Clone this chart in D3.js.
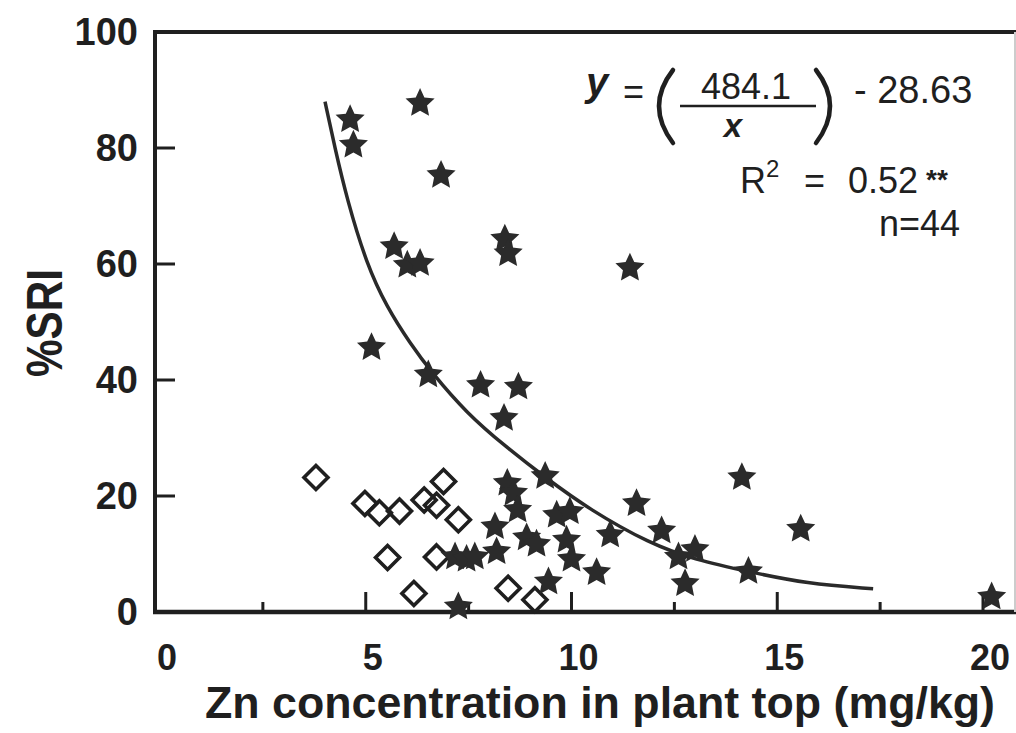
<!DOCTYPE html>
<html>
<head>
<meta charset="utf-8">
<script src="https://cdn.jsdelivr.net/npm/d3@7"></script>
<style>
  body { margin: 0; background: #fff; }
  svg { display: block; }
</style>
</head>
<body>
<svg id="chart" width="1016" height="733"></svg>
<script>
// Zn concentration in plant top (mg/kg) against %SRI

// Filled stars
const starZn  = [6.32, 4.62, 4.70, 6.83, 5.69, 6.01, 6.32, 8.38, 8.46, 11.42,
                 5.14, 6.52, 7.79, 8.71, 8.36, 9.36, 8.44, 8.59, 8.69, 8.14,
                 8.18, 7.17, 7.45, 7.65, 8.91, 9.15, 9.64, 9.96, 9.88, 10.00,
                 9.44, 10.61, 7.25, 11.58, 10.94, 12.19, 12.60, 13.00, 12.76, 14.14,
                 14.30, 15.57, 20.21];
const starSRI = [87.7, 84.9, 80.5, 75.3, 63.0, 59.8, 60.1, 64.3, 61.8, 59.3,
                 45.6, 40.9, 39.1, 38.8, 33.4, 23.4, 22.2, 20.5, 17.6, 14.7,
                 10.4, 9.5, 9.1, 9.5, 12.8, 11.7, 16.7, 17.3, 12.4, 9.1,
                 5.2, 6.8, 0.9, 18.7, 13.3, 14.0, 9.5, 10.8, 4.9, 23.2,
                 7.0, 14.3, 2.6];

// Open diamonds
const diamondZn  = [3.79, 4.98, 5.33, 5.82, 6.42, 6.89, 6.72, 7.25, 5.53, 6.72, 6.17, 8.46, 9.11];
const diamondSRI = [23.2, 18.7, 17.1, 17.4, 19.3, 22.5, 18.4, 15.9, 9.4, 9.5, 3.2, 4.1, 2.1];

// Fitted curve as drawn
const fitZn  = [4.01, 4.25, 4.55, 5.02, 5.51, 6.08, 6.60, 7.45, 8.40, 9.36, 10.45, 11.90, 13.00, 14.34, 15.70, 17.33];
const fitSRI = [88.0, 80.0, 71.0, 60.0, 52.6, 46.3, 41.3, 34.3, 28.5, 23.2, 17.6, 11.8, 9.0, 6.9, 4.9, 4.0];

// Fit statistics
const fitA = 484.1, fitB = 28.63, rSquared = 0.52, nObs = 44;

// Axis ticks
const xTickLabels = [0, 5, 10, 15, 20];
const xMajorTicks = [5, 10, 15, 20];
const xMinorTicks = [2.5, 7.5, 12.5, 17.5];
const yTickLabels = [0, 20, 40, 60, 80, 100];
const yInnerTicks = [20, 40, 60, 80];

const ink = "#1f1f1f";
const font = "'Liberation Sans', Arial, Helvetica, sans-serif";

const svg = d3.select("#chart");
svg.append("rect").attr("width", 1016).attr("height", 733).attr("fill", "#fff");

const x = d3.scaleLinear().domain([0, 20]).range([160, 983]);
const y = d3.scaleLinear().domain([0, 100]).range([612, 32]);

const plotLeft = 155, plotRight = 1015;

// frame
const frame = svg.append("g").attr("stroke", ink).attr("fill", "none");
frame.append("line").attr("x1", plotLeft).attr("x2", plotRight + 2)
  .attr("y1", y(100)).attr("y2", y(100)).attr("stroke-width", 4);
frame.append("line").attr("x1", plotLeft).attr("x2", plotLeft)
  .attr("y1", y(100) - 2).attr("y2", y(0) + 2).attr("stroke-width", 4);
frame.append("line").attr("x1", plotLeft - 2).attr("x2", plotRight + 2)
  .attr("y1", y(0)).attr("y2", y(0)).attr("stroke-width", 4.5);
frame.append("line").attr("x1", plotRight).attr("x2", plotRight)
  .attr("y1", y(100)).attr("y2", y(0)).attr("stroke-width", 2).attr("stroke", "#ccc");

// y ticks pointing inward
frame.selectAll(".ytick").data(yInnerTicks).join("line")
  .attr("x1", plotLeft).attr("x2", plotLeft + 20)
  .attr("y1", d => y(d)).attr("y2", d => y(d)).attr("stroke-width", 3);

// x ticks pointing inward
frame.selectAll(".xmaj").data(xMajorTicks).join("line")
  .attr("x1", d => x(d)).attr("x2", d => x(d))
  .attr("y1", y(0)).attr("y2", y(0) - 20).attr("stroke-width", 3);
frame.selectAll(".xmin").data(xMinorTicks).join("line")
  .attr("x1", d => x(d)).attr("x2", d => x(d))
  .attr("y1", y(0)).attr("y2", y(0) - 10).attr("stroke-width", 3);

// tick labels
svg.append("g").selectAll("text").data(yTickLabels).join("text")
  .attr("x", 138).attr("y", d => y(d) + 13)
  .attr("text-anchor", "end").attr("font-family", font)
  .attr("font-weight", "bold").attr("font-size", 38).attr("fill", ink)
  .text(d => d);

svg.append("g").selectAll("text").data(xTickLabels).join("text")
  .attr("x", d => x(d) + 7).attr("y", 670)
  .attr("text-anchor", "middle").attr("font-family", font)
  .attr("font-weight", "bold").attr("font-size", 36).attr("fill", ink)
  .text(d => d);

// axis titles
svg.append("text")
  .attr("x", 600).attr("y", 718)
  .attr("text-anchor", "middle").attr("font-family", font)
  .attr("font-weight", "bold").attr("font-size", 45).attr("fill", ink)
  .attr("textLength", 790).attr("lengthAdjust", "spacingAndGlyphs")
  .text("Zn concentration in plant top (mg/kg)");

svg.append("text")
  .attr("transform", "translate(62,323) rotate(-90)")
  .attr("text-anchor", "middle").attr("font-family", font)
  .attr("font-weight", "bold").attr("font-size", 50).attr("fill", ink)
  .attr("textLength", 108).attr("lengthAdjust", "spacingAndGlyphs")
  .text("%SRI");

// fitted curve
const line = d3.line().x(d => x(d[0])).y(d => y(d[1])).curve(d3.curveBasis);
svg.append("path")
  .datum(d3.zip(fitZn, fitSRI))
  .attr("d", line)
  .attr("fill", "none").attr("stroke", "#2a2a2a").attr("stroke-width", 3.5);

// symbol shapes
const fatStar = {
  draw(ctx, size) {
    const R = Math.sqrt(size), r = R * 0.48;
    for (let i = 0; i < 10; i++) {
      const a = -Math.PI / 2 + i * Math.PI / 5;
      const rad = i % 2 ? r : R;
      const px = rad * Math.cos(a), py = rad * Math.sin(a);
      if (i) ctx.lineTo(px, py); else ctx.moveTo(px, py);
    }
    ctx.closePath();
  }
};
const openDiamond = {
  draw(ctx, size) {
    const h = Math.sqrt(size);
    ctx.moveTo(0, -h); ctx.lineTo(h, 0); ctx.lineTo(0, h); ctx.lineTo(-h, 0);
    ctx.closePath();
  }
};

svg.append("g").selectAll("path").data(d3.zip(diamondZn, diamondSRI)).join("path")
  .attr("transform", d => `translate(${x(d[0])},${y(d[1])})`)
  .attr("d", d3.symbol(openDiamond, 12 * 12))
  .attr("fill", "none").attr("stroke", ink).attr("stroke-width", 3.6)
  .attr("stroke-linejoin", "miter");

svg.append("g").selectAll("path").data(d3.zip(starZn, starSRI)).join("path")
  .attr("transform", d => `translate(${x(d[0])},${y(d[1])})`)
  .attr("d", d3.symbol(fatStar, 15.3 * 15.3))
  .attr("fill", "#2b2b2b");

// regression annotation
const eq = svg.append("g").attr("font-family", font).attr("fill", ink);
eq.append("text").attr("x", 586).attr("y", 96)
  .attr("font-size", 40).attr("font-weight", "bold").attr("font-style", "italic").text("y");
eq.append("text").attr("x", 623).attr("y", 104).attr("font-size", 36).text("=");

// large brackets around the fraction
const bracket = eq.append("g").attr("fill", "none").attr("stroke", ink)
  .attr("stroke-width", 4.5).attr("stroke-linecap", "round");
bracket.append("path").attr("d", "M 673 70 Q 645 106 673 143");
bracket.append("path").attr("d", "M 816 70 Q 844 106 816 143");

eq.append("line").attr("x1", 680).attr("x2", 816).attr("y1", 106).attr("y2", 106)
  .attr("stroke", ink).attr("stroke-width", 2.5);

// numerator above the bar, denominator below
eq.append("text").attr("x", 746).attr("y", 99).attr("text-anchor", "middle")
  .attr("font-size", 36).text(fitA.toFixed(1));
eq.append("text").attr("x", 733).attr("y", 137).attr("text-anchor", "middle")
  .attr("font-size", 33).attr("font-weight", "bold").attr("font-style", "italic").text("x");

eq.append("text").attr("x", 854).attr("y", 103).attr("font-size", 38).text("- " + fitB.toFixed(2));

eq.append("text").attr("x", 740).attr("y", 193).attr("font-size", 36).text("R");
eq.append("text").attr("x", 766).attr("y", 177).attr("font-size", 24).text("2");
eq.append("text").attr("x", 804).attr("y", 193).attr("font-size", 36).text("=");
eq.append("text").attr("x", 848).attr("y", 193).attr("font-size", 36).text(rSquared.toFixed(2));
eq.append("text").attr("x", 926).attr("y", 189).attr("font-size", 28).attr("font-weight", "bold").text("**");
eq.append("text").attr("x", 960).attr("y", 236).attr("text-anchor", "end")
  .attr("font-size", 36).text("n=" + nObs);
</script>
</body>
</html>
